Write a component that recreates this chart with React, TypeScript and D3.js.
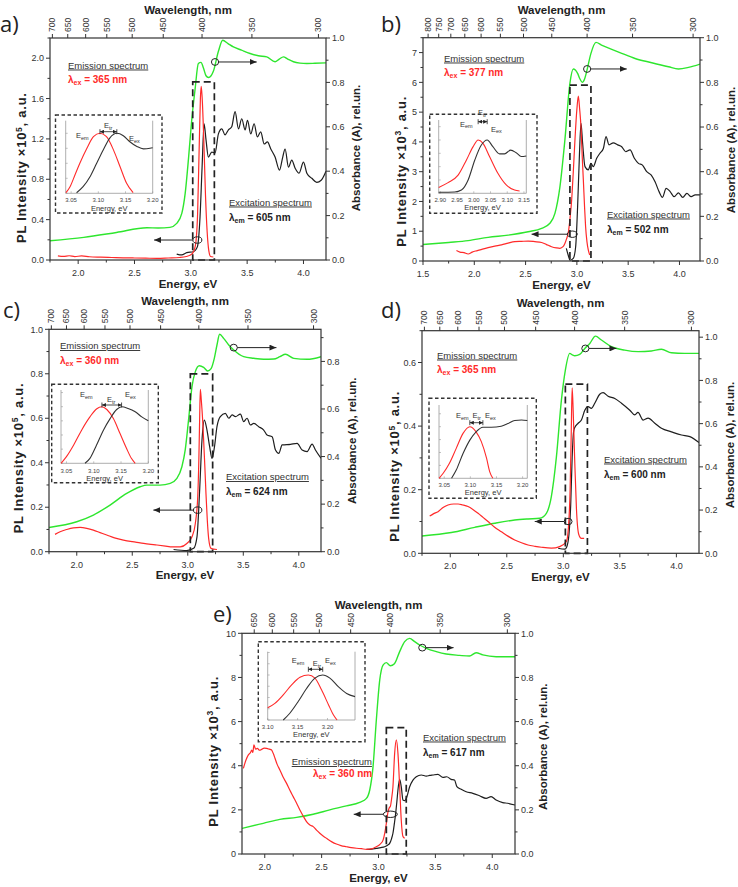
import React from 'react';
import * as d3 from 'd3';

type Pt = [number, number];

const FONT = "'Liberation Sans', Arial, Helvetica, sans-serif";
const GREEN = '#2ee62e';
const RED = '#ff2a2a';
const BLACK = '#1e1e1e';
const AX = '#333';

// ================= DATA =================
// Panel a
const aAbs: Pt[] = [[1.75,0.087],[2.05,0.102],[2.34,0.124],[2.61,0.145],[2.71,0.144],[2.815,0.147],[2.875,0.165],[2.92,0.21],[2.95,0.30],[2.98,0.46],[3.008,0.63],[3.038,0.77],[3.067,0.885],[3.09,0.89],[3.112,0.865],[3.135,0.83],[3.156,0.822],[3.18,0.83],[3.2,0.85],[3.245,0.94],[3.283,0.99],[3.33,0.975],[3.378,0.96],[3.45,0.945],[3.526,0.93],[3.6,0.92],[3.674,0.915],[3.748,0.893],[3.785,0.905],[3.822,0.915],[3.86,0.905],[3.911,0.893],[3.97,0.887],[4.03,0.885],[4.1,0.886],[4.2,0.888]];
const aExc: Pt[] = [[2.875,0.059],[2.919,0.05],[2.964,0.073],[3.023,0.082],[3.058,0.13],[3.082,0.43],[3.1,0.92],[3.118,1.35],[3.135,1.19],[3.156,1.02],[3.186,1.07],[3.215,1.06],[3.245,1.25],[3.275,1.30],[3.304,1.24],[3.334,1.29],[3.363,1.32],[3.393,1.47],[3.423,1.30],[3.452,1.40],[3.482,1.29],[3.503,1.385],[3.532,1.25],[3.562,1.35],[3.591,1.22],[3.621,1.27],[3.651,1.15],[3.68,1.17],[3.71,1.10],[3.748,1.02],[3.787,0.89],[3.816,1.02],[3.837,1.10],[3.867,0.92],[3.896,0.99],[3.926,0.91],[3.961,0.86],[4.0,0.97],[4.03,0.86],[4.074,0.81],[4.118,0.77],[4.157,0.79],[4.2,0.88]];
const aEm: Pt[] = [[1.82,0.04],[1.87,0.035],[1.92,0.042],[1.97,0.034],[2.03,0.04],[2.1,0.032],[2.2,0.028],[2.3,0.025],[2.4,0.022],[2.5,0.02],[2.6,0.018],[2.7,0.016],[2.8,0.02],[2.9,0.025],[2.96,0.035],[3.01,0.06],[3.04,0.14],[3.06,0.45],[3.075,1.15],[3.085,1.6],[3.092,1.72],[3.1,1.62],[3.115,1.2],[3.13,0.65],[3.145,0.28],[3.16,0.09],[3.175,0.035],[3.2,0.03]];
const aInsEm: Pt[] = [[3.0405,0.01],[3.048,0.11],[3.057,0.305],[3.066,0.5],[3.079,0.75],[3.091,0.943],[3.103,1.0],[3.115,0.943],[3.128,0.72],[3.14,0.443],[3.152,0.167],[3.164,0.01]];
const aInsEx: Pt[] = [[3.06,0.01],[3.072,0.11],[3.085,0.28],[3.097,0.5],[3.109,0.72],[3.121,0.92],[3.134,1.0],[3.146,0.96],[3.158,0.86],[3.171,0.78],[3.183,0.74],[3.195,0.75],[3.2,0.76]];

// Panel b
const bAbs: Pt[] = [[1.5,0.074],[1.56,0.076],[1.75,0.083],[1.94,0.091],[2.135,0.106],[2.33,0.116],[2.525,0.131],[2.656,0.146],[2.737,0.169],[2.786,0.213],[2.835,0.333],[2.883,0.542],[2.932,0.796],[2.965,0.86],[2.985,0.855],[3.007,0.84],[3.03,0.815],[3.053,0.80],[3.075,0.815],[3.095,0.848],[3.137,0.93],[3.186,0.979],[3.24,0.967],[3.34,0.948],[3.437,0.93],[3.567,0.907],[3.73,0.888],[3.893,0.87],[3.99,0.86],[4.088,0.867],[4.2,0.882]];
const bExc: Pt[] = [[2.897,0.425],[2.915,0.2],[2.932,0.03],[2.965,0.09],[2.988,0.48],[3.007,1.82],[3.023,3.39],[3.04,4.62],[3.056,3.95],[3.079,3.17],[3.111,3.06],[3.137,3.28],[3.16,3.17],[3.193,3.45],[3.225,3.62],[3.258,3.78],[3.284,4.18],[3.313,3.90],[3.355,3.97],[3.398,3.90],[3.437,3.84],[3.476,3.67],[3.518,3.73],[3.56,3.45],[3.6,3.28],[3.639,3.22],[3.681,3.0],[3.723,2.89],[3.762,2.66],[3.801,2.33],[3.834,2.14],[3.87,2.44],[3.909,2.33],[3.948,2.16],[3.99,2.29],[4.032,2.14],[4.072,2.27],[4.114,2.16],[4.153,2.22],[4.2,2.22]];
const bEm: Pt[] = [[1.826,0.35],[1.86,0.3],[1.9,0.28],[1.94,0.235],[1.98,0.3],[2.03,0.35],[2.08,0.4],[2.135,0.45],[2.2,0.5],[2.265,0.54],[2.33,0.6],[2.395,0.65],[2.46,0.66],[2.525,0.67],[2.59,0.65],[2.656,0.62],[2.7,0.56],[2.753,0.48],[2.8,0.44],[2.835,0.425],[2.865,0.48],[2.883,0.59],[2.9,0.75],[2.916,0.95],[2.935,1.5],[2.949,2.05],[2.965,3.0],[2.981,4.06],[3.0,5.1],[3.014,5.54],[3.027,5.1],[3.04,4.5],[3.052,3.5],[3.063,2.72],[3.075,1.8],[3.085,1.15],[3.098,0.65],[3.111,0.37],[3.125,0.2]];
const bInsEm: Pt[] = [[2.895,0.11],[2.923,0.2],[2.953,0.34],[2.978,0.625],[2.998,0.875],[3.013,1.0],[3.027,0.94],[3.047,0.69],[3.072,0.375],[3.097,0.156],[3.122,0.06],[3.137,0.044]];
const bInsEx: Pt[] = [[2.895,0.02],[2.943,0.025],[2.963,0.06],[2.983,0.25],[3.003,0.625],[3.022,0.9],[3.04,1.0],[3.057,0.875],[3.077,0.74],[3.092,0.74],[3.11,0.81],[3.127,0.76],[3.142,0.69],[3.157,0.7]];

// Panel c
const cAbs: Pt[] = [[1.75,0.102],[2.0,0.126],[2.15,0.154],[2.3,0.196],[2.45,0.245],[2.571,0.273],[2.631,0.28],[2.75,0.28],[2.842,0.287],[2.902,0.308],[2.947,0.357],[2.977,0.428],[3.007,0.554],[3.038,0.694],[3.068,0.757],[3.104,0.782],[3.143,0.775],[3.179,0.76],[3.21,0.77],[3.239,0.813],[3.263,0.869],[3.287,0.914],[3.323,0.897],[3.369,0.869],[3.414,0.848],[3.504,0.82],[3.594,0.813],[3.684,0.809],[3.775,0.81],[3.83,0.82],[3.88,0.83],[3.955,0.813],[4.075,0.809],[4.2,0.82]];
const cExc: Pt[] = [[2.872,0.01],[2.99,0.005],[3.053,0.015],[3.083,0.067],[3.107,0.277],[3.128,0.502],[3.149,0.592],[3.173,0.547],[3.197,0.472],[3.218,0.42],[3.24,0.47],[3.263,0.562],[3.293,0.607],[3.338,0.622],[3.369,0.6],[3.4,0.615],[3.429,0.607],[3.474,0.619],[3.504,0.585],[3.534,0.6],[3.564,0.57],[3.594,0.577],[3.639,0.562],[3.684,0.547],[3.714,0.525],[3.76,0.517],[3.79,0.457],[3.82,0.442],[3.85,0.48],[3.925,0.483],[3.985,0.487],[4.03,0.457],[4.075,0.45],[4.12,0.484],[4.15,0.457],[4.2,0.42]];
const cEm: Pt[] = [[1.804,0.078],[1.85,0.09],[1.91,0.1],[1.97,0.107],[2.03,0.109],[2.09,0.105],[2.15,0.097],[2.21,0.086],[2.27,0.075],[2.34,0.062],[2.42,0.052],[2.5,0.045],[2.571,0.04],[2.65,0.034],[2.722,0.03],[2.8,0.025],[2.842,0.022],[2.932,0.022],[2.992,0.037],[3.038,0.067],[3.068,0.127],[3.09,0.25],[3.1,0.42],[3.107,0.6],[3.113,0.73],[3.122,0.68],[3.133,0.6],[3.143,0.5],[3.154,0.38],[3.164,0.26],[3.176,0.14],[3.188,0.06],[3.209,0.015],[3.263,0.01]];
const cInsEm: Pt[] = [[3.04,0],[3.05,0.118],[3.063,0.32],[3.078,0.59],[3.093,0.82],[3.105,0.96],[3.115,1.0],[3.124,0.95],[3.136,0.79],[3.148,0.53],[3.16,0.265],[3.169,0.088],[3.176,0]];
const cInsEx: Pt[] = [[3.084,0],[3.093,0.088],[3.105,0.32],[3.118,0.59],[3.13,0.79],[3.142,0.95],[3.151,1.0],[3.163,0.97],[3.176,0.91],[3.188,0.82],[3.2,0.75]];

// Panel d
const dAbs: Pt[] = [[1.75,0.08],[2.01,0.096],[2.216,0.12],[2.393,0.139],[2.57,0.154],[2.688,0.159],[2.791,0.162],[2.85,0.185],[2.894,0.262],[2.939,0.447],[2.983,0.709],[3.018,0.848],[3.057,0.925],[3.08,0.918],[3.101,0.914],[3.145,0.92],[3.19,0.948],[3.234,0.971],[3.284,1.005],[3.337,0.987],[3.426,0.956],[3.543,0.94],[3.662,0.933],[3.779,0.936],[3.868,0.944],[3.956,0.928],[4.074,0.925],[4.2,0.925]];
const dExc: Pt[] = [[2.954,0.016],[3.013,0.013],[3.03,0.02],[3.05,0.06],[3.065,0.15],[3.078,0.3],[3.09,0.38],[3.1,0.395],[3.131,0.409],[3.16,0.419],[3.19,0.45],[3.219,0.461],[3.248,0.456],[3.278,0.472],[3.322,0.5],[3.352,0.505],[3.396,0.494],[3.455,0.487],[3.514,0.472],[3.588,0.45],[3.632,0.435],[3.66,0.443],[3.706,0.419],[3.75,0.425],[3.809,0.409],[3.868,0.393],[3.956,0.382],[4.045,0.372],[4.119,0.367],[4.2,0.348]];
const dEm: Pt[] = [[1.818,0.117],[1.85,0.124],[1.892,0.131],[1.94,0.145],[1.98,0.152],[2.03,0.155],[2.069,0.155],[2.11,0.152],[2.157,0.147],[2.2,0.138],[2.246,0.126],[2.29,0.113],[2.334,0.1],[2.39,0.083],[2.452,0.068],[2.51,0.054],[2.57,0.042],[2.63,0.033],[2.688,0.026],[2.75,0.022],[2.806,0.019],[2.894,0.016],[2.968,0.021],[3.027,0.037],[3.045,0.08],[3.06,0.2],[3.07,0.38],[3.078,0.52],[3.087,0.45],[3.1,0.3],[3.116,0.14],[3.136,0.06],[3.16,0.047],[3.184,0.047]];
const dInsEm: Pt[] = [[3.04,0],[3.048,0.097],[3.06,0.29],[3.073,0.58],[3.086,0.87],[3.099,1.0],[3.111,0.9],[3.121,0.71],[3.131,0.39],[3.137,0.13],[3.143,0]];
const dInsEx: Pt[] = [[3.064,0],[3.073,0.16],[3.086,0.48],[3.099,0.74],[3.111,0.9],[3.124,0.99],[3.14,0.99],[3.159,1.01],[3.172,1.06],[3.185,1.12],[3.198,1.13],[3.209,1.12]];

// Panel e
const eAbs: Pt[] = [[1.8,0.116],[1.987,0.139],[2.133,0.157],[2.28,0.166],[2.426,0.18],[2.572,0.2],[2.718,0.218],[2.835,0.234],[2.894,0.252],[2.923,0.29],[2.952,0.396],[2.981,0.607],[3.011,0.789],[3.04,0.856],[3.069,0.867],[3.104,0.853],[3.14,0.862],[3.186,0.917],[3.23,0.962],[3.274,0.977],[3.318,0.962],[3.361,0.947],[3.42,0.932],[3.508,0.917],[3.595,0.906],[3.712,0.9],[3.8,0.897],[3.858,0.912],[3.917,0.902],[4.034,0.894],[4.2,0.894]];
const eExc: Pt[] = [[2.894,0.21],[2.94,0.22],[2.981,0.257],[3.02,0.29],[3.054,0.33],[3.08,0.4],[3.098,0.48],[3.115,0.7],[3.127,0.94],[3.14,1.4],[3.151,1.84],[3.162,2.4],[3.171,2.9],[3.186,3.38],[3.2,3.05],[3.215,2.45],[3.23,2.42],[3.25,2.6],[3.274,3.05],[3.303,3.35],[3.332,3.5],[3.376,3.58],[3.42,3.53],[3.45,3.56],[3.478,3.58],[3.522,3.61],[3.566,3.47],[3.6,3.5],[3.639,3.38],[3.668,3.35],[3.689,3.05],[3.727,2.93],[3.771,2.82],[3.829,2.75],[3.888,2.64],[3.946,2.52],[3.99,2.6],[4.034,2.45],[4.092,2.33],[4.136,2.3],[4.2,2.22]];
const eEm: Pt[] = [[1.812,3.88],[1.835,4.26],[1.856,4.49],[1.875,4.6],[1.885,4.71],[1.895,4.6],[1.905,4.94],[1.92,4.75],[1.935,4.79],[1.955,4.7],[1.973,4.74],[1.995,4.8],[2.016,4.79],[2.04,4.75],[2.06,4.71],[2.075,4.55],[2.09,4.34],[2.11,4.05],[2.133,3.81],[2.16,3.5],[2.192,3.2],[2.22,2.9],[2.25,2.6],[2.28,2.3],[2.309,1.99],[2.34,1.7],[2.367,1.47],[2.4,1.3],[2.426,1.24],[2.455,1.08],[2.484,0.94],[2.513,0.82],[2.543,0.71],[2.59,0.55],[2.63,0.45],[2.67,0.38],[2.718,0.33],[2.76,0.29],[2.806,0.26],[2.85,0.24],[2.894,0.21],[2.94,0.23],[2.981,0.33],[3.015,0.45],[3.04,0.63],[3.055,0.95],[3.069,1.39],[3.084,1.92],[3.095,2.1],[3.104,2.15],[3.115,2.5],[3.127,3.05],[3.142,4.56],[3.157,5.17],[3.171,4.56],[3.186,3.05],[3.2,1.54],[3.215,0.79],[3.23,0.71]];
const eInsEm: Pt[] = [[3.1,0.27],[3.112,0.37],[3.126,0.56],[3.14,0.78],[3.154,0.95],[3.168,1.0],[3.179,0.93],[3.19,0.67],[3.202,0.33],[3.21,0.11],[3.216,0]];
const eInsEx: Pt[] = [[3.126,0],[3.137,0.15],[3.151,0.41],[3.165,0.7],[3.179,0.93],[3.192,1.0],[3.204,0.93],[3.218,0.74],[3.232,0.59],[3.246,0.52]];

// Ticks
const energyTicks = [2.0, 2.5, 3.0, 3.5, 4.0];
const energyTicksB = [1.5, 2.0, 2.5, 3.0, 3.5, 4.0];
const waveTicks = [700, 650, 600, 550, 500, 450, 400, 350, 300];
const waveTicksB = [800, 750, 700, 650, 600, 550, 500, 450, 400, 350, 300];
const waveTicksE = [650, 600, 550, 500, 450, 400, 350, 300];
const plTicksA = [0, 0.4, 0.8, 1.2, 1.6, 2.0];
const plTicksB = [0, 1, 2, 3, 4, 5, 6, 7];
const plTicksC = [0, 0.2, 0.4, 0.6, 0.8, 1.0];
const plTicksD = [0, 0.2, 0.4, 0.6];
const plTicksE = [0, 2, 4, 6, 8, 10];
const absTicks = [0, 0.2, 0.4, 0.6, 0.8, 1.0];
const absTicksC = [0, 0.2, 0.4, 0.6, 0.8];
const insTicksA = [3.05, 3.10, 3.15, 3.20];
const insTicksB = [2.90, 2.95, 3.00, 3.05, 3.10, 3.15];
const insTicksE = [3.10, 3.15, 3.20];

// ================= LAYOUT =================
const panels = [
  {
    letter: 'a)', letterPos: [0, 32], x0: 50, x1: 326, y0: 38, y1: 260,
    xDomain: [1.75, 4.2], plMax: 2.2, absMax: 1.0, eTicks: energyTicks, wTicks: waveTicks,
    plTicks: plTicksA, plFmt: '.1f', aTicks: absTicks, exp: '5',
    abs: aAbs, exc: aExc, em: aEm, rect: [3.017, 3.209, 1.765],
    absCirc: [3.215, 0.892, 3.585], plCirc: [3.058, 0.198, 2.674, 4.5],
    emText: [68, 68.5], lamEx: '365', excText: [229, 205.5], lamEm: '605',
    leftTitle: [21.7, 168], rightTitle: [356, 148],
    inset: {
      box: [55.5, 115, 162, 213], plot: [65.7, 152.7, 120.7, 193.3], xDomain: [3.04, 3.2], yMax: 1.21,
      ticks: insTicksA, em: aInsEm, ex: aInsEx, eem: 3.103, eex: 3.134, arrowY: 131.7,
      lEem: [76, 138], lEtr: [104, 128], lEex: [129, 141], tickY: 202, titleY: 210.5,
    },
  },
  {
    letter: 'b)', letterPos: [381, 32], x0: 423, x1: 700, y0: 37.7, y1: 261,
    xDomain: [1.5, 4.2], plMax: 7.5, absMax: 1.0, eTicks: energyTicksB, wTicks: waveTicksB,
    plTicks: plTicksB, plFmt: 'd', aTicks: absTicks, exp: '3',
    abs: bAbs, exc: bExc, em: bEm, rect: [2.932, 3.137, 5.91],
    absCirc: [3.1, 0.86, 3.486], plCirc: [2.955, 0.9, 2.558, 5],
    emText: [444, 61.5], lamEx: '377', excText: [607, 217.5], lamEm: '502',
    leftTitle: [401.3, 171.7], rightTitle: [731.3, 150],
    inset: {
      box: [429.7, 114.3, 537, 213.3], plot: [438.7, 526.3, 120, 193.3], xDomain: [2.895, 3.157], yMax: 1.375,
      ticks: insTicksB, em: bInsEm, ex: bInsEx, eem: 3.013, eex: 3.04, arrowY: 121.7,
      lEem: [460, 126.5], lEtr: [478, 115], lEex: [491, 131.5], tickY: 202, titleY: 210,
    },
  },
  {
    letter: 'c)', letterPos: [3, 318], x0: 49, x1: 321, y0: 329.3, y1: 551.7,
    xDomain: [1.75, 4.2], plMax: 1.0, absMax: 0.935, eTicks: energyTicks, wTicks: waveTicks,
    plTicks: plTicksC, plFmt: '.1f', aTicks: absTicksC, exp: '5',
    abs: cAbs, exc: cExc, em: cEm, rect: [3.023, 3.224, 0.8],
    absCirc: [3.414, 0.858, 3.799], plCirc: [3.089, 0.187, 2.69, 4.2],
    emText: [60, 349], lamEx: '360', excText: [226, 480], lamEm: '624',
    leftTitle: [18.3, 458.3], rightTitle: [351.7, 440.8],
    inset: {
      box: [51.7, 384.3, 158.3, 482.7], plot: [61, 148.3, 390, 463.3], xDomain: [3.04, 3.2], yMax: 1.295,
      ticks: insTicksA, em: cInsEm, ex: cInsEx, eem: 3.115, eex: 3.151, arrowY: 405,
      lEem: [80, 397], lEtr: [107, 402], lEex: [125, 397], tickY: 472.5, titleY: 480.5,
    },
  },
  {
    letter: 'd)', letterPos: [381, 318], x0: 422, x1: 699, y0: 330.7, y1: 553.3,
    xDomain: [1.75, 4.2], plMax: 0.7, absMax: 1.03, eTicks: energyTicks, wTicks: waveTicks,
    plTicks: plTicksD, plFmt: '.1f', aTicks: absTicks, exp: '5',
    abs: dAbs, exc: dExc, em: dEm, rect: [3.018, 3.213, 0.532],
    absCirc: [3.195, 0.948, 3.47], plCirc: [3.042, 0.1, 2.747, 4],
    emText: [437, 358.5], lamEx: '365', excText: [604, 462.5], lamEm: '600',
    leftTitle: [394.7, 466.7], rightTitle: [729.7, 445],
    inset: {
      box: [429, 398.3, 536.3, 498.3], plot: [439, 527.3, 405, 478.3], xDomain: [3.04, 3.209], yMax: 1.42,
      ticks: insTicksA, em: dInsEm, ex: dInsEx, eem: 3.099, eex: 3.124, arrowY: 422.7,
      lEem: [456, 418], lEtr: [472.5, 418], lEex: [485, 418], tickY: 486.5, titleY: 495,
    },
  },
  {
    letter: 'e)', letterPos: [213, 622], x0: 242, x1: 515, y0: 633.3, y1: 854,
    xDomain: [1.8, 4.2], plMax: 10, absMax: 1.0, eTicks: energyTicks, wTicks: waveTicksE,
    plTicks: plTicksE, plFmt: 'd', aTicks: absTicks, exp: '3',
    abs: eAbs, exc: eExc, em: eEm, rect: [3.069, 3.244, 5.73],
    absCirc: [3.385, 0.935, 3.66], plCirc: [3.104, 1.8, 2.782, 7],
    emText: [291.7, 765], lamEx: '360', excText: [423, 740.5], lamEm: '617', lamExPos: [313, 777],
    leftTitle: [213.3, 751.7], rightTitle: [543.3, 746.7],
    inset: {
      box: [258.3, 641.7, 365, 741.7], plot: [267.7, 355, 651.7, 720], xDomain: [3.1, 3.246], yMax: 1.518,
      ticks: insTicksE, em: eInsEm, ex: eInsEx, eem: 3.168, eex: 3.192, arrowY: 669.3,
      lEem: [291.7, 663], lEtr: [312.7, 666], lEex: [325, 663], tickY: 729, titleY: 737,
    },
  },
];

function minorOf(major: number[], domain: [number, number]) {
  const step = major[1] - major[0];
  const out: number[] = [];
  const lo = Math.min(domain[0], domain[1]);
  const hi = Math.max(domain[0], domain[1]);
  for (let v = major[0] - step; v <= major[major.length - 1] + step; v += step) {
    const m = v + step / 2;
    if (m >= lo - 1e-9 && m <= hi + 1e-9) out.push(m);
  }
  return out;
}

function Inset({ s }: { s: any }) {
  const x = d3.scaleLinear().domain(s.xDomain).range([s.plot[0], s.plot[1]]);
  const y = d3.scaleLinear().domain([0, s.yMax]).range([s.plot[3], s.plot[2]]);
  const line = d3.line<Pt>().x(d => x(d[0])).y(d => y(d[1])).curve(d3.curveMonotoneX);
  const [bx0, by0, bx1, by1] = s.box;
  const leftTicks = d3.range(0, s.yMax, 0.25);
  const xa = x(s.eem), xb = x(s.eex);
  const lbl = (pos: number[], sub: string) => (
    <text x={pos[0]} y={pos[1]} fontSize={7.5} fill="#333" fontFamily={FONT}>E<tspan fontSize={5.5} dy={1.5}>{sub}</tspan></text>
  );
  return (
    <g>
      <rect x={bx0} y={by0} width={bx1 - bx0} height={by1 - by0} fill="white" stroke="#333" strokeWidth={1.4} strokeDasharray="3.5,2.5" />
      <line x1={s.plot[0]} x2={s.plot[0]} y1={s.plot[2]} y2={s.plot[3]} stroke="#999" strokeWidth={0.8} />
      <line x1={s.plot[1]} x2={s.plot[1]} y1={s.plot[2]} y2={s.plot[3]} stroke="#999" strokeWidth={0.8} />
      <line x1={s.plot[0]} x2={s.plot[1]} y1={s.plot[3]} y2={s.plot[3]} stroke="#999" strokeWidth={0.8} />
      {leftTicks.map((t: number, i: number) => (
        <line key={'lt' + i} x1={s.plot[0]} x2={s.plot[0] + 2} y1={y(t)} y2={y(t)} stroke="#999" strokeWidth={0.6} />
      ))}
      {s.ticks.map((t: number) => (
        <g key={t}>
          <line x1={x(t)} x2={x(t)} y1={s.plot[3]} y2={s.plot[3] - 2} stroke="#999" strokeWidth={0.6} />
          <text x={x(t)} y={s.tickY} fontSize={6} textAnchor="middle" fill="#444" fontFamily={FONT}>{t.toFixed(2)}</text>
        </g>
      ))}
      <text x={(s.plot[0] + s.plot[1]) / 2} y={s.titleY} fontSize={7.5} textAnchor="middle" fill="#333" fontFamily={FONT}>Energy, eV</text>
      <path d={line(s.em) || ''} fill="none" stroke={RED} strokeWidth={1.1} />
      <path d={line(s.ex) || ''} fill="none" stroke="#333" strokeWidth={1.1} />
      <line x1={xa} x2={xb} y1={s.arrowY} y2={s.arrowY} stroke="#222" strokeWidth={0.8} markerStart="url(#ahs)" markerEnd="url(#ahs)" />
      <line x1={xa} x2={xa} y1={s.arrowY - 2.5} y2={s.arrowY + 2.5} stroke="#222" strokeWidth={0.8} />
      <line x1={xb} x2={xb} y1={s.arrowY - 2.5} y2={s.arrowY + 2.5} stroke="#222" strokeWidth={0.8} />
      {lbl(s.lEem, 'em')}
      {lbl(s.lEtr, 'tr')}
      {lbl(s.lEex, 'ex')}
    </g>
  );
}

function Panel({ c, idx }: { c: any; idx: number }) {
  const x = d3.scaleLinear().domain(c.xDomain).range([c.x0, c.x1]);
  const yL = d3.scaleLinear().domain([0, c.plMax]).range([c.y1, c.y0]);
  const yR = d3.scaleLinear().domain([0, c.absMax]).range([c.y1, c.y0]);
  const lineL = d3.line<Pt>().x(d => x(d[0])).y(d => yL(d[1])).curve(d3.curveMonotoneX);
  const lineR = d3.line<Pt>().x(d => x(d[0])).y(d => yR(d[1])).curve(d3.curveMonotoneX);
  const fmtL = d3.format(c.plFmt);
  const fmtR = d3.format('.1f');
  const eMinor = minorOf(c.eTicks, c.xDomain);
  const plMinor = minorOf(c.plTicks, [0, c.plMax]);
  const aMinor = minorOf(c.aTicks, [0, c.absMax]);
  const clip = 'clip' + idx;
  const [r0, r1, rTop] = c.rect;
  const [acE, acA, acEnd] = c.absCirc;
  const [pcE, pcP, pcEnd, pcRx] = c.plCirc;
  const acx = x(acE), acy = yR(acA);
  const pcx = x(pcE), pcy = yL(pcP);
  const tickCol = '#333';
  const lamExPos = c.lamExPos || [c.emText[0], c.emText[1] + 14.5];
  return (
    <g>
      <defs>
        <clipPath id={clip}><rect x={c.x0} y={c.y0} width={c.x1 - c.x0} height={c.y1 - c.y0} /></clipPath>
      </defs>
      <text x={c.letterPos[0]} y={c.letterPos[1]} fontSize={22} fontFamily="'Open Sans', 'Noto Sans', sans-serif" fill="#222">{c.letter}</text>
      {/* data */}
      <g clipPath={`url(#${clip})`}>
        <path d={lineR(c.abs) || ''} fill="none" stroke={GREEN} strokeWidth={1.4} />
        <path d={lineL(c.exc) || ''} fill="none" stroke={BLACK} strokeWidth={1.2} />
        <path d={lineL(c.em) || ''} fill="none" stroke={RED} strokeWidth={1.2} />
      </g>
      {/* dashed rectangle */}
      <rect x={x(r0)} y={yL(rTop)} width={x(r1) - x(r0)} height={c.y1 - yL(rTop)} fill="none" stroke="#222" strokeWidth={1.7} strokeDasharray="7,4" />
      {/* frame */}
      <rect x={c.x0} y={c.y0} width={c.x1 - c.x0} height={c.y1 - c.y0} fill="none" stroke={AX} strokeWidth={1.2} />
      {/* bottom ticks */}
      {c.eTicks.map((t: number) => (
        <g key={'e' + t}>
          <line x1={x(t)} x2={x(t)} y1={c.y1} y2={c.y1 + 4} stroke={AX} strokeWidth={1} />
          <text x={x(t)} y={c.y1 + 16} fontSize={9} textAnchor="middle" fill={tickCol} fontFamily={FONT}>{t.toFixed(1)}</text>
        </g>
      ))}
      {eMinor.map((t: number) => (
        <line key={'em' + t} x1={x(t)} x2={x(t)} y1={c.y1} y2={c.y1 + 2.5} stroke={AX} strokeWidth={1} />
      ))}
      <text x={(c.x0 + c.x1) / 2} y={c.y1 + 27.5} fontSize={11.5} fontWeight="bold" textAnchor="middle" fill="#222" fontFamily={FONT}>Energy, eV</text>
      {/* top wavelength ticks */}
      {c.wTicks.map((w: number) => {
        const tx = x(1239.84 / w);
        return (
          <g key={'w' + w}>
            <line x1={tx} x2={tx} y1={c.y0} y2={c.y0 - 4} stroke={AX} strokeWidth={1} />
            <text transform={`translate(${tx + 3},${c.y0 - 6}) rotate(-90)`} fontSize={8.5} fill={tickCol} fontFamily={FONT}>{w}</text>
          </g>
        );
      })}
      <text x={(c.x0 + c.x1) / 2} y={c.y0 - 24} fontSize={11.5} fontWeight="bold" textAnchor="middle" fill="#222" fontFamily={FONT}>Wavelength, nm</text>
      {/* left ticks */}
      {c.plTicks.map((t: number) => (
        <g key={'l' + t}>
          <line x1={c.x0} x2={c.x0 - 4} y1={yL(t)} y2={yL(t)} stroke={AX} strokeWidth={1} />
          <text x={c.x0 - 6} y={yL(t) + 3.2} fontSize={9} textAnchor="end" fill={tickCol} fontFamily={FONT}>{fmtL(t)}</text>
        </g>
      ))}
      {plMinor.map((t: number) => (
        <line key={'lm' + t} x1={c.x0} x2={c.x0 - 2.5} y1={yL(t)} y2={yL(t)} stroke={AX} strokeWidth={1} />
      ))}
      {/* right ticks */}
      {c.aTicks.map((t: number) => (
        <g key={'r' + t}>
          <line x1={c.x1} x2={c.x1 + 4} y1={yR(t)} y2={yR(t)} stroke={AX} strokeWidth={1} />
          <text x={c.x1 + 6} y={yR(t) + 3.2} fontSize={9} textAnchor="start" fill={tickCol} fontFamily={FONT}>{fmtR(t)}</text>
        </g>
      ))}
      {aMinor.map((t: number) => (
        <line key={'rm' + t} x1={c.x1} x2={c.x1 + 2.5} y1={yR(t)} y2={yR(t)} stroke={AX} strokeWidth={1} />
      ))}
      {/* axis titles */}
      <text transform={`translate(${c.leftTitle[0] + 4.5},${c.leftTitle[1]}) rotate(-90)`} fontSize={13} fontWeight="bold" textAnchor="middle" fill="#222" fontFamily={FONT} textLength={150} lengthAdjust="spacing">
        PL Intensity ×10<tspan fontSize={8.5} dy={-4.5}>{c.exp}</tspan><tspan dy={4.5}>, a.u.</tspan>
      </text>
      <text transform={`translate(${c.rightTitle[0] + 4},${c.rightTitle[1]}) rotate(-90)`} fontSize={11.5} fontWeight="bold" textAnchor="middle" fill="#222" fontFamily={FONT}>Absorbance (A), rel.un.</text>
      {/* annotations */}
      <text x={c.emText[0]} y={c.emText[1]} fontSize={9.5} fill="#333" fontFamily={FONT} style={{ textDecoration: 'underline' }}>Emission spectrum</text>
      <text x={lamExPos[0]} y={lamExPos[1]} fontSize={10} fontWeight="bold" fill={RED} fontFamily={FONT}>λ<tspan fontSize={7} dy={2}>ex</tspan><tspan dy={-2}> = {c.lamEx} nm</tspan></text>
      <text x={c.excText[0]} y={c.excText[1]} fontSize={9.5} fill="#333" fontFamily={FONT} style={{ textDecoration: 'underline' }}>Excitation spectrum</text>
      <text x={c.excText[0]} y={c.excText[1] + 15} fontSize={10} fontWeight="bold" fill="#222" fontFamily={FONT}>λ<tspan fontSize={7} dy={2}>em</tspan><tspan dy={-2}> = {c.lamEm} nm</tspan></text>
      {/* circles + arrows */}
      <ellipse cx={acx} cy={acy} rx={3.6} ry={3.4} fill="none" stroke="#222" strokeWidth={1} />
      <line x1={acx + 3.6} x2={x(acEnd)} y1={acy} y2={acy} stroke="#222" strokeWidth={1} markerEnd="url(#ah)" />
      <ellipse cx={pcx} cy={pcy} rx={pcRx} ry={3.2} fill="none" stroke="#222" strokeWidth={1} />
      <line x1={pcx - pcRx} x2={x(pcEnd)} y1={pcy} y2={pcy} stroke="#222" strokeWidth={1} markerEnd="url(#ah)" />
      <Inset s={c.inset} />
    </g>
  );
}

export default function App() {
  return (
    <svg width={738} height={887} viewBox="0 0 738 887" style={{ position: 'absolute', left: 0, top: 0, background: 'white' }} xmlns="http://www.w3.org/2000/svg">
      <defs>
        <marker id="ah" markerUnits="userSpaceOnUse" markerWidth={7} markerHeight={6} refX={7} refY={3} orient="auto">
          <path d="M0,0 L7,3 L0,6 Z" fill="#222" />
        </marker>
        <marker id="ahs" markerUnits="userSpaceOnUse" markerWidth={4} markerHeight={4} refX={4} refY={2} orient="auto-start-reverse">
          <path d="M0,0 L4,2 L0,4 Z" fill="#222" />
        </marker>
      </defs>
      <rect x={0} y={0} width={738} height={887} fill="white" />
      {panels.map((p, i) => <Panel key={i} c={p} idx={i} />)}
    </svg>
  );
}
